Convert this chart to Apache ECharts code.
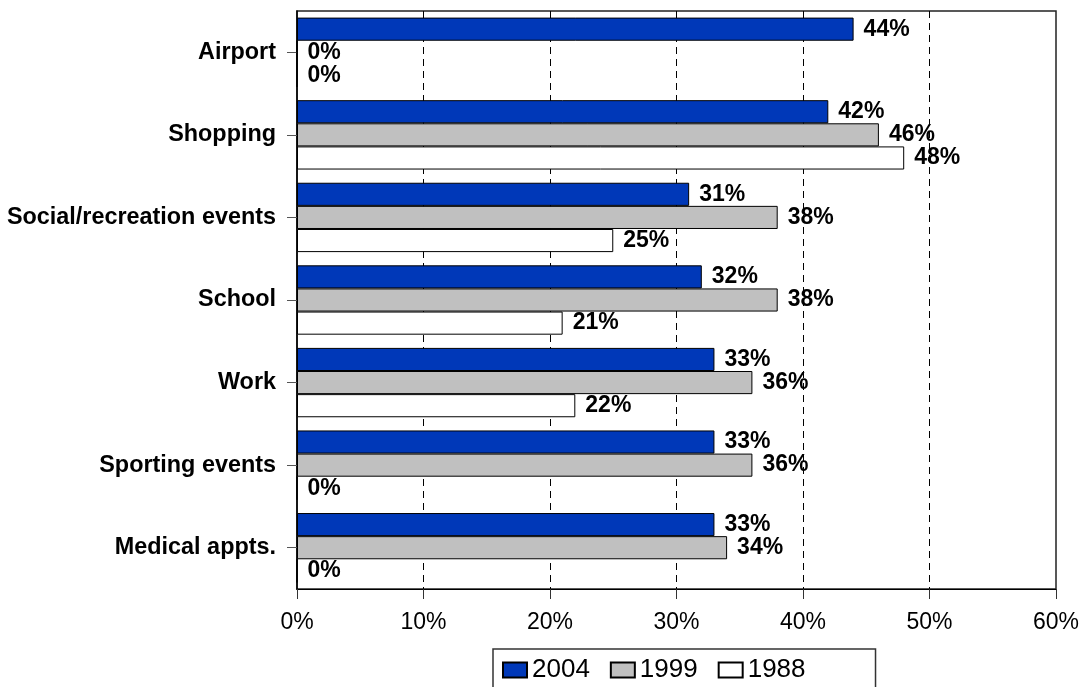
<!DOCTYPE html>
<html>
<head>
<meta charset="utf-8">
<script src="https://cdn.jsdelivr.net/npm/echarts@6/dist/echarts.min.js"></script>
<style>
html,body{margin:0;padding:0;background:#fff;}
#chart{width:1083px;height:687px;}
</style>
</head>
<body>
<div id="chart"></div>
<script>
const categories = ['Airport', 'Shopping', 'Social/recreation events', 'School', 'Work', 'Sporting events', 'Medical appts.'];
const seriesNames = ['2004', '1999', '1988'];
const values2004 = [44, 42, 31, 32, 33, 33, 33];
const values1999 = [0, 46, 38, 38, 36, 36, 34];
const values1988 = [0, 48, 25, 21, 22, 0, 0];
const xTicks = [0, 10, 20, 30, 40, 50, 60];

const colors = ['#0038b8', '#c0c0c0', '#ffffff'];
const dataSets = [values2004, values1999, values1988];

const chart = echarts.init(document.getElementById('chart'));
const font = 'Arial, "Liberation Sans", sans-serif';

const series = seriesNames.map((name, i) => ({
  name: name,
  type: 'bar',
  data: dataSets[i],
  barGap: '0%',
  barCategoryGap: '16%',
  itemStyle: { color: colors[i], borderColor: '#000', borderWidth: 1 },
  label: {
    show: true,
    position: 'right',
    distance: 10,
    formatter: '{c}%',
    color: '#000',
    fontFamily: font,
    fontWeight: 'bold',
    fontSize: 23
  }
}));

chart.setOption({
  animation: false,
  backgroundColor: '#fff',
  grid: {
    left: 297, right: 27, top: 11, bottom: 98,
    show: true, borderColor: '#222', borderWidth: 1.5, backgroundColor: 'transparent'
  },
  legend: {
    data: seriesNames.map(n => ({ name: n, icon: 'rect' })),
    left: 493, top: 649,
    orient: 'horizontal',
    itemWidth: 24, itemHeight: 15,
    itemGap: 20,
    padding: [8, 70, 30, 9],
    borderColor: '#333', borderWidth: 1.5,
    textStyle: { fontFamily: font, fontSize: 26, color: '#000' },
    selectedMode: false
  },
  xAxis: {
    type: 'value',
    min: xTicks[0], max: xTicks[xTicks.length - 1], interval: 10,
    axisLine: { show: true, lineStyle: { color: '#000', width: 1 } },
    axisTick: { show: true, length: 10, lineStyle: { color: '#333' } },
    axisLabel: {
      formatter: '{value}%', margin: 22,
      fontFamily: font, fontSize: 23, color: '#000'
    },
    splitLine: { show: true, showMinLine: false, showMaxLine: false, lineStyle: { color: '#000', type: [7, 5], width: 1 } }
  },
  yAxis: {
    type: 'category',
    data: categories,
    inverse: true,
    axisLine: { show: true, lineStyle: { color: '#000', width: 1.5 } },
    axisTick: { show: true, alignWithLabel: true, length: 10, lineStyle: { color: '#555' } },
    axisLabel: {
      margin: 21, fontFamily: font, fontWeight: 'bold', fontSize: 23.4, color: '#000'
    }
  },
  series: series
});
</script>
</body>
</html>
